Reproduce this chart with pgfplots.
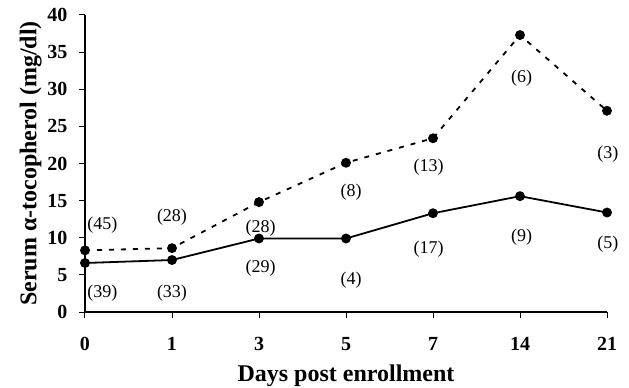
\documentclass[border=0pt]{standalone}
\usepackage{pgfplots}
\pgfplotsset{compat=1.18}
\usepackage{fontspec}
\setmainfont{Liberation Serif}

\begin{document}
\begin{tikzpicture}
% page frame
\path[use as bounding box] (-85pt,-76pt) rectangle (544pt,312pt);
\begin{axis}[
  at={(0,0)}, anchor=south west,
  scale only axis,
  width=522pt, height=297pt,
  xmin=0, xmax=6, ymin=0, ymax=40,
  axis x line*=bottom, axis y line*=left,
  axis line style={line width=1.1pt, -},
  xtick={0,1,2,3,4,5,6},
  xticklabels={0,1,3,5,7,14,21},
  ytick={0,5,...,40},
  tick align=outside,
  major tick length=6pt,
  tick style={line width=1pt, black},
  /pgf/number format/assume math mode=true,
  ticklabel style={font=\fontsize{20}{20}\selectfont\bfseries},
  xticklabel style={yshift=-16pt},
  yticklabel style={xshift=-8pt},
  xlabel={Days post enrollment},
  ylabel={Serum α-tocopherol (mg/dl)},
  label style={font=\fontsize{24}{24}\selectfont\bfseries},
  xlabel style={yshift=-7pt},
  ylabel style={yshift=-1pt},
  clip=false,
]
% upper series (dashed)
\addplot[black, line width=1.8pt, dash pattern=on 5pt off 7pt,
  mark=*, mark size=4pt, mark options={solid}] coordinates {
  (0,8.3) (1,8.6) (2,14.8) (3,20.1) (4,23.4) (5,37.3) (6,27.1)
};
% lower series (solid)
\addplot[black, line width=1.8pt, mark=*, mark size=4pt] coordinates {
  (0,6.6) (1,7.0) (2,9.9) (3,9.9) (4,13.3) (5,15.6) (6,13.4)
};
% group sizes
\begin{scope}[every node/.style={font=\fontsize{18}{18}\selectfont}]
\node at (axis cs:0.2,11.7) {(45)};
\node at (axis cs:1.0,12.8) {(28)};
\node at (axis cs:2.02,11.3) {(28)};
\node at (axis cs:3.06,16.1) {(8)};
\node at (axis cs:3.95,19.5) {(13)};
\node at (axis cs:5.02,31.5) {(6)};
\node at (axis cs:6.01,21.3) {(3)};
\node at (axis cs:0.2,2.6) {(39)};
\node at (axis cs:1.0,2.6) {(33)};
\node at (axis cs:2.02,5.9) {(29)};
\node at (axis cs:3.06,4.3) {(4)};
\node at (axis cs:3.95,8.5) {(17)};
\node at (axis cs:5.02,10.1) {(9)};
\node at (axis cs:6.01,9.2) {(5)};
\end{scope}
\end{axis}
\end{tikzpicture}
\end{document}
